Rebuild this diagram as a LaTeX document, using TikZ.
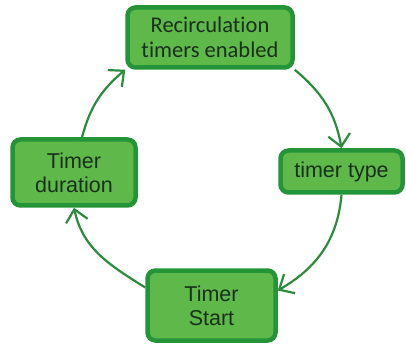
\documentclass[tikz,border=0pt]{standalone}
\usepackage{fontspec}
\usetikzlibrary{arrows.meta}
\newfontfamily\calfont[Ligatures={NoCommon}]{Carlito}
\newfontfamily\arialfont{Liberation Sans}
\definecolor{boxfill}{RGB}{94,184,74}
\definecolor{boxline}{RGB}{36,148,56}
\definecolor{boxtext}{RGB}{26,48,26}
\definecolor{flow}{RGB}{44,140,62}
\tikzset{
  stage/.style={draw=boxline, fill=boxfill, line width=4.5pt, rounded corners=8pt,
    text=boxtext, align=center, inner sep=0pt, font=\arialfont\fontsize{21.5}{24}\selectfont},
  flowarrow/.style={draw=flow, line width=2.2pt,
    -{Straight Barb[length=12pt,width=22pt,line width=2.2pt]}}
}
\begin{document}
\begin{tikzpicture}[x=1pt,y=-1pt]
\useasboundingbox (0,0) rectangle (406,344);
\fill[white] (0,0) rectangle (406,344);

\node[stage, minimum width=165pt, minimum height=60pt,
      font=\calfont\fontsize{22.5}{25}\selectfont] (rec) at (210,37.5)
      {Recirculation\\timers enabled};
\node[stage, minimum width=122pt, minimum height=42pt] (typ) at (341.5,171.5) {timer type};
\node[stage, minimum width=128pt, minimum height=70pt] (sta) at (211.5,305.5) {Timer\\Start};
\node[stage, minimum width=123pt, minimum height=66pt] (dur) at (74,172.5) {Timer\\duration};

\draw[flowarrow] (rec.south east) to[out=-40, in=100] (typ.north);
\draw[flowarrow] (typ.south) to[out=-95, in=30] ([yshift=15pt]sta.east);
\draw[flowarrow] ([yshift=18pt]sta.west) to[out=148, in=-78] (dur.south);
\draw[flowarrow] ([xshift=8pt]dur.north) to[out=75, in=-140] (rec.south west);
\end{tikzpicture}
\end{document}
